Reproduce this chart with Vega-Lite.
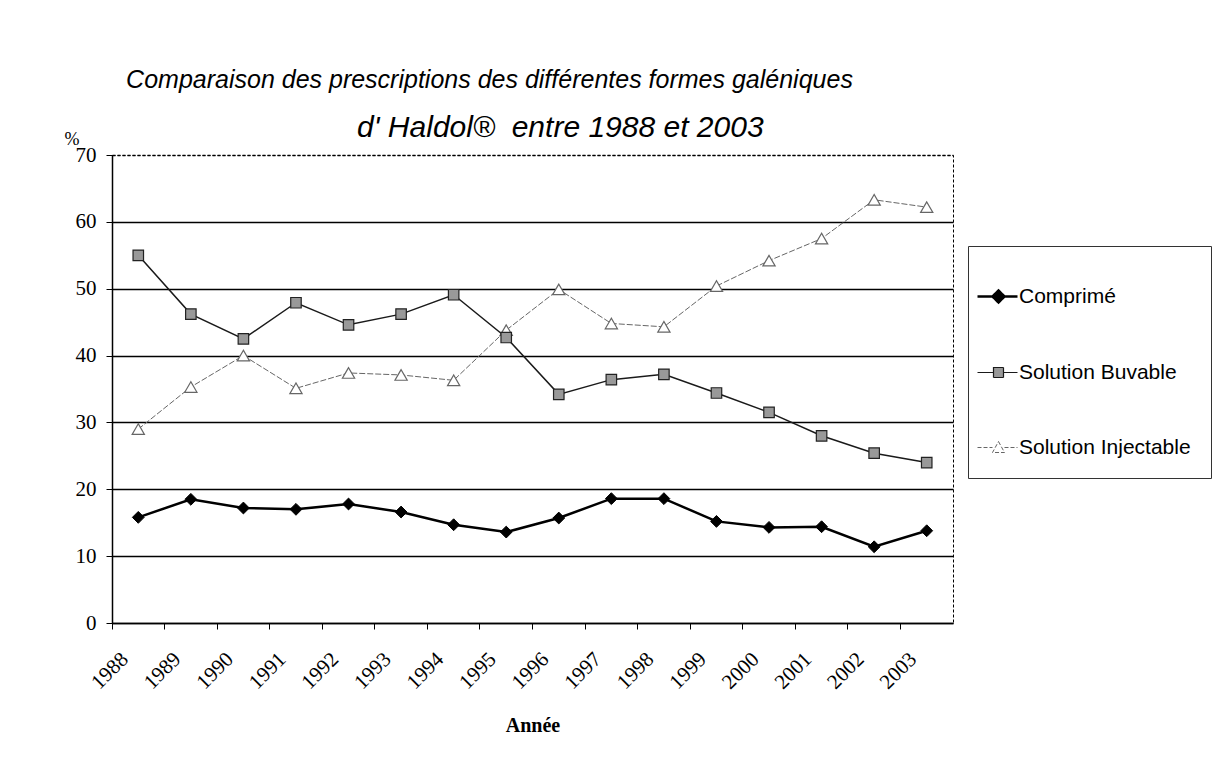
{
  "$schema": "https://vega.github.io/schema/vega-lite/v6.json",
  "width": 841,
  "height": 468,
  "autosize": "none",
  "padding": {"left": 112, "top": 155, "right": 271, "bottom": 145},
  "background": "white",
  "title": {
    "text": "Comparaison des prescriptions des différentes formes galéniques",
    "subtitle": "\u200b\u00a0\u00a0\u00a0\u00a0\u00a0\u00a0\u00a0\u00a0\u00a0\u00a0\u00a0\u00a0\u00a0\u00a0\u00a0\u00a0\u00a0d' Haldol®\u00a0 entre 1988 et 2003",
    "font": "Liberation Sans",
    "fontStyle": "italic",
    "fontWeight": "normal",
    "fontSize": 25,
    "subtitleFont": "Liberation Sans",
    "subtitleFontStyle": "italic",
    "subtitleFontWeight": "normal",
    "subtitleFontSize": 30,
    "subtitleColor": "black",
    "subtitlePadding": 20,
    "anchor": "middle",
    "frame": "group",
    "dx": -43,
    "offset": -13,
    "color": "black"
  },
  "data": {
    "values": [
      {"annee": "1988", "serie": "Comprimé", "valeur": 15.8},
      {"annee": "1989", "serie": "Comprimé", "valeur": 18.5},
      {"annee": "1990", "serie": "Comprimé", "valeur": 17.2},
      {"annee": "1991", "serie": "Comprimé", "valeur": 17.0},
      {"annee": "1992", "serie": "Comprimé", "valeur": 17.8},
      {"annee": "1993", "serie": "Comprimé", "valeur": 16.6},
      {"annee": "1994", "serie": "Comprimé", "valeur": 14.7},
      {"annee": "1995", "serie": "Comprimé", "valeur": 13.6},
      {"annee": "1996", "serie": "Comprimé", "valeur": 15.7},
      {"annee": "1997", "serie": "Comprimé", "valeur": 18.6},
      {"annee": "1998", "serie": "Comprimé", "valeur": 18.6},
      {"annee": "1999", "serie": "Comprimé", "valeur": 15.2},
      {"annee": "2000", "serie": "Comprimé", "valeur": 14.3},
      {"annee": "2001", "serie": "Comprimé", "valeur": 14.4},
      {"annee": "2002", "serie": "Comprimé", "valeur": 11.4},
      {"annee": "2003", "serie": "Comprimé", "valeur": 13.8},
      {"annee": "1988", "serie": "Solution Buvable", "valeur": 55.0},
      {"annee": "1989", "serie": "Solution Buvable", "valeur": 46.2},
      {"annee": "1990", "serie": "Solution Buvable", "valeur": 42.5},
      {"annee": "1991", "serie": "Solution Buvable", "valeur": 47.9},
      {"annee": "1992", "serie": "Solution Buvable", "valeur": 44.6},
      {"annee": "1993", "serie": "Solution Buvable", "valeur": 46.2},
      {"annee": "1994", "serie": "Solution Buvable", "valeur": 49.1},
      {"annee": "1995", "serie": "Solution Buvable", "valeur": 42.7},
      {"annee": "1996", "serie": "Solution Buvable", "valeur": 34.2},
      {"annee": "1997", "serie": "Solution Buvable", "valeur": 36.4},
      {"annee": "1998", "serie": "Solution Buvable", "valeur": 37.2},
      {"annee": "1999", "serie": "Solution Buvable", "valeur": 34.4},
      {"annee": "2000", "serie": "Solution Buvable", "valeur": 31.5},
      {"annee": "2001", "serie": "Solution Buvable", "valeur": 28.0},
      {"annee": "2002", "serie": "Solution Buvable", "valeur": 25.4},
      {"annee": "2003", "serie": "Solution Buvable", "valeur": 24.0},
      {"annee": "1988", "serie": "Solution Injectable", "valeur": 29.0},
      {"annee": "1989", "serie": "Solution Injectable", "valeur": 35.3},
      {"annee": "1990", "serie": "Solution Injectable", "valeur": 40.0},
      {"annee": "1991", "serie": "Solution Injectable", "valeur": 35.1},
      {"annee": "1992", "serie": "Solution Injectable", "valeur": 37.4},
      {"annee": "1993", "serie": "Solution Injectable", "valeur": 37.1},
      {"annee": "1994", "serie": "Solution Injectable", "valeur": 36.3},
      {"annee": "1995", "serie": "Solution Injectable", "valeur": 43.8},
      {"annee": "1996", "serie": "Solution Injectable", "valeur": 49.9},
      {"annee": "1997", "serie": "Solution Injectable", "valeur": 44.8},
      {"annee": "1998", "serie": "Solution Injectable", "valeur": 44.3},
      {"annee": "1999", "serie": "Solution Injectable", "valeur": 50.4},
      {"annee": "2000", "serie": "Solution Injectable", "valeur": 54.2},
      {"annee": "2001", "serie": "Solution Injectable", "valeur": 57.5},
      {"annee": "2002", "serie": "Solution Injectable", "valeur": 63.3},
      {"annee": "2003", "serie": "Solution Injectable", "valeur": 62.2}
    ]
  },
  "encoding": {
    "x": {
      "field": "annee",
      "type": "ordinal",
      "bandPosition": 0.5,
      "scale": {"type": "band", "paddingInner": 0, "paddingOuter": 0},
      "axis": {
        "title": "Année",
        "titleFont": "Liberation Serif",
        "titleFontSize": 20,
        "titleFontWeight": "bold",
        "titleColor": "black",
        "titleBaseline": "middle",
        "titleY": 102,
        "labelAngle": -45,
        "labelAlign": "right",
        "labelBaseline": "top",
        "labelFont": "Liberation Serif",
        "labelFontSize": 21,
        "labelColor": "black",
        "labelPadding": 19,
        "labelOffset": -21,
        "bandPosition": 0,
        "tickSize": 6,
        "tickColor": "black",
        "tickWidth": 1,
        "domainColor": "black",
        "domainWidth": 1.5,
        "grid": false
      }
    },
    "y": {
      "field": "valeur",
      "type": "quantitative",
      "scale": {"domain": [0, 70], "nice": false, "zero": true},
      "axis": {
        "values": [0, 10, 20, 30, 40, 50, 60, 70],
        "title": "%",
        "titleAngle": 0,
        "titleX": -48,
        "titleY": -16,
        "titleAlign": "left",
        "titleBaseline": "middle",
        "titleFont": "Liberation Serif",
        "titleFontSize": 18,
        "titleFontWeight": "normal",
        "titleColor": "black",
        "labelFont": "Liberation Serif",
        "labelFontSize": 21,
        "labelColor": "black",
        "labelPadding": 10,
        "tickSize": 6,
        "tickColor": "black",
        "domainColor": "black",
        "domainWidth": 1.5,
        "grid": true,
        "gridColor": "black",
        "gridWidth": 1.3,
        "gridDash": {"condition": {"test": "datum.value === 70", "value": [3, 2]}, "value": []}
      }
    }
  },
  "layer": [
    {
      "transform": [{"filter": "datum.serie === 'Solution Injectable'"}],
      "mark": {"type": "line", "strokeWidth": 1, "strokeDash": [6, 2]},
      "encoding": {
        "color": {
          "field": "serie",
          "type": "nominal",
          "scale": {"domain": ["Comprimé", "Solution Buvable", "Solution Injectable"], "range": ["#000000", "#1a1a1a", "#666666"]},
          "legend": {
            "orient": "none",
            "legendX": 856,
            "legendY": 91,
            "title": "\u00a0",
            "titleFontSize": 14,
            "titlePadding": 6,
            "padding": 20,
            "strokeColor": "#333333",
            "fillColor": "white",
            "labelFont": "Liberation Sans",
            "labelFontSize": 21,
            "labelColor": "black",
            "labelLimit": 400,
            "labelOffset": 10,
            "symbolSize": 1600,
            "rowPadding": 53,
            "encode": {
              "symbols": {
                "update": {
                  "shape": {"signal": "datum.value === 'Comprimé' ? 'M-1.05,0H0.95M0,-0.3L0.3,0L0,0.3L-0.3,0Z' : datum.value === 'Solution Buvable' ? 'M-1.05,0H-0.25M0.25,0H0.95M-0.25,-0.25H0.25V0.25H-0.25Z' : 'M-1.05,0H-0.3M0.3,0H0.95M0,-0.3L0.3,0.25H-0.3Z'"},
                  "size": {"value": 1600},
                  "fill": {"signal": "datum.value === 'Comprimé' ? '#000000' : datum.value === 'Solution Buvable' ? '#999999' : '#ffffff'"},
                  "stroke": {"signal": "datum.value === 'Comprimé' ? '#000000' : datum.value === 'Solution Buvable' ? '#222222' : '#666666'"},
                  "strokeWidth": {"signal": "datum.value === 'Comprimé' ? 2.5 : datum.value === 'Solution Buvable' ? 1.2 : 1"},
                  "strokeDash": {"signal": "datum.value === 'Solution Injectable' ? [4, 2] : [1, 0]"},
                  "opacity": {"value": 1},
                  "fillOpacity": {"value": 1},
                  "strokeOpacity": {"value": 1}
                }
              }
            }
          }
        }
      }
    },
    {
      "transform": [{"filter": "datum.serie === 'Solution Buvable'"}],
      "mark": {"type": "line", "strokeWidth": 1.5},
      "encoding": {"color": {"field": "serie", "type": "nominal"}}
    },
    {
      "transform": [{"filter": "datum.serie === 'Comprimé'"}],
      "mark": {"type": "line", "strokeWidth": 2.5},
      "encoding": {"color": {"field": "serie", "type": "nominal"}}
    },
    {
      "transform": [{"filter": "datum.serie === 'Solution Injectable'"}],
      "mark": {"type": "point", "shape": "triangle-up", "filled": true, "fill": "#ffffff", "stroke": "#666666", "strokeWidth": 1.2, "size": 150, "opacity": 1},
      "encoding": {}
    },
    {
      "transform": [{"filter": "datum.serie === 'Solution Buvable'"}],
      "mark": {"type": "point", "shape": "square", "filled": true, "fill": "#999999", "stroke": "#222222", "strokeWidth": 1.2, "size": 110, "opacity": 1},
      "encoding": {}
    },
    {
      "transform": [{"filter": "datum.serie === 'Comprimé'"}],
      "mark": {"type": "point", "shape": "diamond", "filled": true, "fill": "#000000", "stroke": "#000000", "strokeWidth": 1, "size": 140, "opacity": 1},
      "encoding": {}
    }
  ],
  "config": {
    "view": {"stroke": "#000000", "strokeDash": [3, 2], "strokeWidth": 1},
    "axis": {"labelFontWeight": "normal"}
  }
}
